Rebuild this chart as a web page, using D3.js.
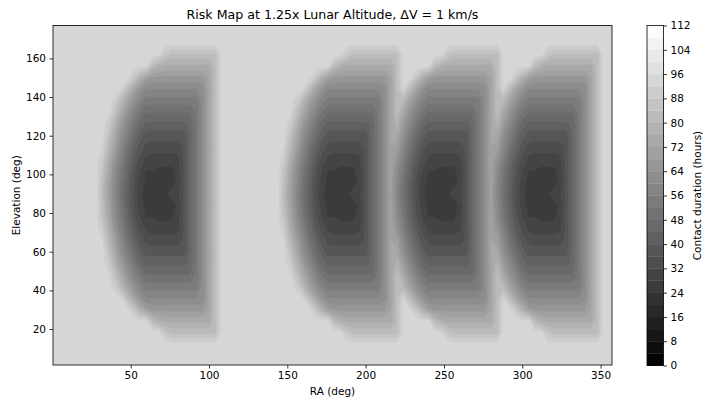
<!DOCTYPE html>
<html>
<head>
<meta charset="utf-8">
<script src="https://cdn.jsdelivr.net/npm/d3@7"></script>
<style>
  body { margin: 0; background: #fff; }
  svg { display: block; }
  text { font-family: "DejaVu Sans", sans-serif; fill: #000; }
</style>
</head>
<body>
<svg id="chart" width="703" height="400"></svg>
<script>
// ---- data ---------------------------------------------------------------
// Sampling grid (degrees)
const raGrid = d3.range(0, 360, 4);          // right ascension samples
const elevationGrid = d3.range(0, 181, 6);   // elevation samples

// Contact duration outside any risk lobe (hours)
const backgroundHours = 94;

// Right-hand edge (RA, deg) of each risk lobe
const lobeEdgesRA = [104, 220, 284, 348];

// Lobe profile columns: RA offset from the lobe edge (deg)
const profileOffsets = [-80, -76, -72, -68, -64, -60, -56, -52, -48, -44, -40,
                        -36, -32, -28, -24, -20, -16, -12, -8, -4, 0];
// Elevation of each profile row (deg)
const profileElevations = [18, 24, 30, 36, 42, 48, 54, 60, 66, 72, 78, 84, 90,
                           96, 102, 108, 114, 120, 126, 132, 138, 144, 150, 156, 162];
// Contact duration (hours) across one lobe, one row per elevation
const lobeProfile = [
  [94,94,94,94,94,94,94,94,94,94,94,94,87,83,83,83,83,83,83,83,83],
  [94,94,94,94,94,94,94,94,94,94,82,77,75,75,75,75,75,75,75,75,83],
  [94,94,94,94,94,94,94,87,77,70,67,67,67,67,67,67,67,67,67,72,83],
  [94,94,94,94,94,92,82,72,65,60,60,60,60,60,60,60,60,60,62,72,83],
  [94,94,94,94,90,80,71,64,58,54,54,54,54,54,54,54,54,54,62,72,83],
  [94,94,94,93,84,74,65,58,52,48,48,48,48,48,48,48,48,53,62,72,83],
  [94,94,94,89,78,68,60,52,46,43,43,43,43,43,43,43,45,53,62,72,83],
  [94,94,94,84,73,63,55,48,42,38,38,38,38,38,38,38,45,53,62,72,83],
  [94,94,92,80,70,60,51,44,38,35,34,34,34,34,34,37,45,53,62,72,83],
  [94,94,88,76,65,56,47,40,35,31,30,30,30,30,31,37,45,53,62,72,83],
  [94,94,85,73,62,53,45,37,32,28,28,27,27,27,30,37,45,53,62,72,83],
  [94,94,83,71,61,51,43,36,30,27,26,25,25,26,29,37,45,53,62,72,83],
  [94,94,81,70,59,50,42,35,29,26,25,25,27,30,31,37,45,53,62,72,83],
  [94,94,83,71,61,51,43,36,30,27,26,25,25,26,29,37,45,53,62,72,83],
  [94,94,85,73,62,53,45,37,32,28,28,27,27,27,30,37,45,53,62,72,83],
  [94,94,88,76,65,56,47,40,35,31,30,30,30,30,31,37,45,53,62,72,83],
  [94,94,92,80,70,60,51,44,38,35,34,34,34,34,34,37,45,53,62,72,83],
  [94,94,94,84,73,63,55,48,42,38,38,38,38,38,38,38,45,53,62,72,83],
  [94,94,94,89,78,68,60,52,46,43,43,43,43,43,43,43,45,53,62,72,83],
  [94,94,94,93,84,74,65,58,52,48,48,48,48,48,48,48,48,53,62,72,83],
  [94,94,94,94,90,80,71,64,58,54,54,54,54,54,54,54,54,54,62,72,83],
  [94,94,94,94,94,92,82,72,65,60,60,60,60,60,60,60,60,60,62,72,83],
  [94,94,94,94,94,94,94,87,77,70,67,67,67,67,67,67,67,67,67,72,83],
  [94,94,94,94,94,94,94,94,94,94,82,77,75,75,75,75,75,75,75,75,83],
  [94,94,94,94,94,94,94,94,94,94,94,94,87,83,83,83,83,83,83,83,83]
];

// Contour levels and tick labels
const levels = d3.range(0, 113, 4);
const colorbarTicks = [0, 8, 16, 24, 32, 40, 48, 56, 64, 72, 80, 88, 96, 104, 112];
const raTicks = [50, 100, 150, 200, 250, 300, 350];
const elevationTicks = [20, 40, 60, 80, 100, 120, 140, 160];

// ---- grid of durations ---------------------------------------------------
const nx = raGrid.length, ny = elevationGrid.length;
const values = new Array(nx * ny).fill(backgroundHours);
const offStep = profileOffsets[1] - profileOffsets[0];
elevationGrid.forEach((el, j) => {
  const r = profileElevations.indexOf(el);
  if (r < 0) return;
  raGrid.forEach((ra, i) => {
    let v = backgroundHours;
    lobeEdgesRA.forEach(edge => {
      const k = (ra - edge - profileOffsets[0]) / offStep;
      if (Number.isInteger(k) && k >= 0 && k < profileOffsets.length) {
        v = Math.min(v, lobeProfile[r][k]);
      }
    });
    values[j * nx + i] = v;
  });
});

// ---- layout --------------------------------------------------------------
const svg = d3.select("#chart");
const plot = { left: 53, right: 612, top: 25.5, bottom: 365 };
const x = d3.scaleLinear().domain([0.4, 357.3]).range([plot.left, plot.right]);
const y = d3.scaleLinear().domain([1.4, 177]).range([plot.bottom, plot.top]);

// matplotlib-style "gray" colormap sampled at band midpoints
const vmin = levels[0], vmax = levels[levels.length - 1];
function bandColor(t) {
  const f = (t + 2 - vmin) / (vmax - vmin);
  const g = Math.min(255, Math.floor(f * 256));
  return d3.rgb(g, g, g).toString();
}

svg.append("defs").append("clipPath").attr("id", "plot-clip")
  .append("rect")
  .attr("x", plot.left).attr("y", plot.top)
  .attr("width", plot.right - plot.left).attr("height", plot.bottom - plot.top);

// filled contours
const raStep = raGrid[1] - raGrid[0];
const elStep = elevationGrid[1] - elevationGrid[0];
const gridProjection = d3.geoTransform({
  point(px, py) {
    this.stream.point(
      x(raGrid[0] + (px - 0.5) * raStep),
      y(elevationGrid[0] + (py - 0.5) * elStep)
    );
  }
});
const path = d3.geoPath(gridProjection);
const bands = d3.contours().size([nx, ny]).thresholds(levels.slice(0, -1))(values);

svg.append("g").attr("clip-path", "url(#plot-clip)")
  .selectAll("path")
  .data(bands)
  .join("path")
  .attr("d", path)
  .attr("fill", d => bandColor(d.value))
  .attr("stroke", d => bandColor(d.value))
  .attr("stroke-width", 0.3);

// axes frame
svg.append("rect")
  .attr("x", plot.left).attr("y", plot.top)
  .attr("width", plot.right - plot.left).attr("height", plot.bottom - plot.top)
  .attr("fill", "none").attr("stroke", "#000").attr("stroke-width", 0.8);

const fontSize = 10.5;
const xAxis = svg.append("g")
  .attr("transform", `translate(0,${plot.bottom})`)
  .call(d3.axisBottom(x).tickValues(raTicks).tickSize(3.5).tickPadding(3.5).tickFormat(d3.format("d")));
const yAxis = svg.append("g")
  .attr("transform", `translate(${plot.left},0)`)
  .call(d3.axisLeft(y).tickValues(elevationTicks).tickSize(3.5).tickPadding(3.5).tickFormat(d3.format("d")));
[xAxis, yAxis].forEach(g => {
  g.select(".domain").remove();
  g.selectAll(".tick line").attr("stroke", "#000").attr("stroke-width", 0.8);
  g.selectAll(".tick text").attr("font-size", fontSize)
    .attr("font-family", "DejaVu Sans, sans-serif").attr("fill", "#000");
});

// axis titles
svg.append("text")
  .attr("x", (plot.left + plot.right) / 2).attr("y", 395)
  .attr("text-anchor", "middle").attr("font-size", fontSize)
  .text("RA (deg)");
svg.append("text")
  .attr("transform", `translate(20,${(plot.top + plot.bottom) / 2}) rotate(-90)`)
  .attr("text-anchor", "middle").attr("font-size", fontSize)
  .text("Elevation (deg)");
svg.append("text")
  .attr("x", (plot.left + plot.right) / 2).attr("y", 19)
  .attr("text-anchor", "middle").attr("font-size", 12.6)
  .text("Risk Map at 1.25x Lunar Altitude, ΔV = 1 km/s");

// ---- colorbar ------------------------------------------------------------
const cb = { left: 647, right: 663.5, top: 25.5, bottom: 365.5 };
const cy = d3.scaleLinear().domain([vmin, vmax]).range([cb.bottom, cb.top]);
const cbar = svg.append("g");
cbar.selectAll("rect.band")
  .data(levels.slice(0, -1))
  .join("rect")
  .attr("class", "band")
  .attr("x", cb.left)
  .attr("width", cb.right - cb.left)
  .attr("y", d => cy(d + 4))
  .attr("height", d => cy(d) - cy(d + 4) + 0.3)
  .attr("fill", d => bandColor(d));
cbar.append("rect")
  .attr("x", cb.left).attr("y", cb.top)
  .attr("width", cb.right - cb.left).attr("height", cb.bottom - cb.top)
  .attr("fill", "none").attr("stroke", "#000").attr("stroke-width", 0.8);
const cAxis = svg.append("g")
  .attr("transform", `translate(${cb.right},0)`)
  .call(d3.axisRight(cy).tickValues(colorbarTicks).tickSize(3.5).tickPadding(3.5).tickFormat(d3.format("d")));
cAxis.select(".domain").remove();
cAxis.selectAll(".tick line").attr("stroke", "#000").attr("stroke-width", 0.8);
cAxis.selectAll(".tick text").attr("font-size", fontSize)
  .attr("font-family", "DejaVu Sans, sans-serif").attr("fill", "#000");
svg.append("text")
  .attr("transform", `translate(701,${(cb.top + cb.bottom) / 2}) rotate(-90)`)
  .attr("text-anchor", "middle").attr("font-size", fontSize)
  .text("Contact duration (hours)");
</script>
</body>
</html>
